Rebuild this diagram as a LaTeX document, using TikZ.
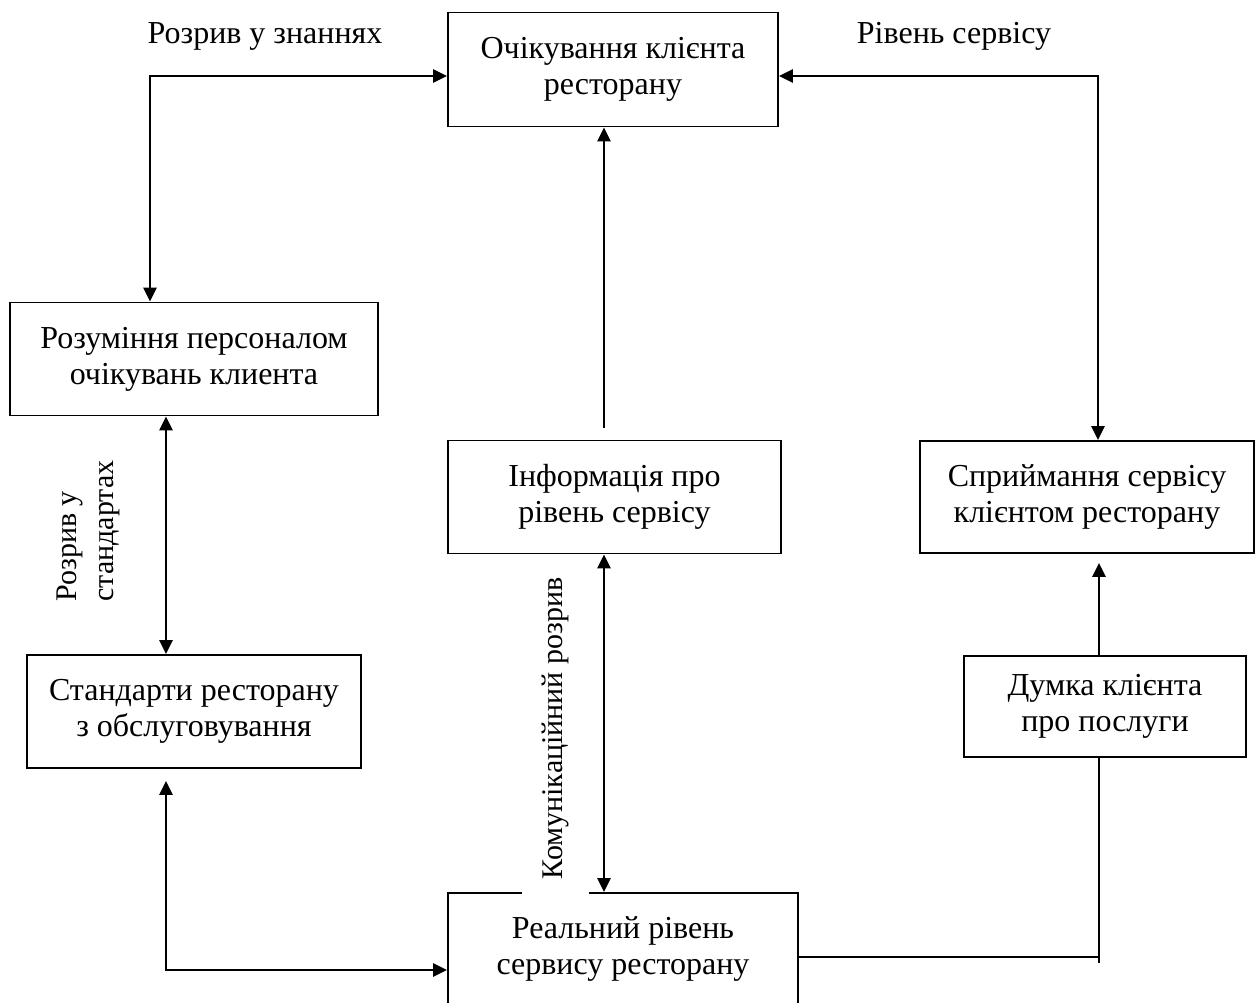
\documentclass[tikz,border=0pt]{standalone}
\usepackage{fontspec}
\setmainfont{Liberation Serif}
\usetikzlibrary{arrows.meta}
\tikzset{arr/.tip={Triangle[length=14pt,width=13pt]}}
\begin{document}
\begin{tikzpicture}[x=1pt,y=-1pt,
  box/.style={draw, line width=1.8pt, align=center, inner sep=0pt,
              font=\fontsize{32}{36}\selectfont},
  lbl/.style={inner sep=0pt, font=\fontsize{32}{36}\selectfont},
  vlbl/.style={inner sep=0pt, rotate=90, font=\fontsize{30}{37}\selectfont},
  conn/.style={line width=2.4pt}]
\useasboundingbox (0,0) rectangle (1259,1003);
\fill[white] (0,0) rectangle (1259,1003);
\clip (0,0) rectangle (1259,1003);

% boxes
\node[box, minimum width=330, minimum height=114] (expect) at (613,69.5) {Очікування клієнта\\ресторану};
\node[box, minimum width=368, minimum height=113] (und) at (194,359) {Розуміння персоналом\\очікувань клиента};
\node[box, minimum width=333, minimum height=113] (info) at (614.5,497) {Інформація про\\рівень сервісу};
\node[box, minimum width=334, minimum height=112] (percept) at (1087,497) {Сприймання сервісу\\клієнтом ресторану};
\node[box, minimum width=334, minimum height=113] (std) at (194,711.5) {Стандарти ресторану\\з обслуговування};
\node[box, minimum width=282, minimum height=101] (opinion) at (1105,706.5) {Думка клієнта\\про послуги};
\node[box, minimum width=350, minimum height=112] (real) at (623,949) {Реальний рівень\\сервису ресторану};

% labels
\node[lbl] (lknow) at (265,36) {Розрив у знаннях};
\node[lbl] (lserv) at (954,36) {Рівень сервісу};
\node[vlbl, align=left] (lstd) at (88,531) {Розрив у\\стандартах};
\node[vlbl, fill=white, inner xsep=18pt, minimum height=67pt] (lcomm) at (555,728.5) {Комунікаційний розрив};

% connectors
\coordinate (kn) at (150,76);
\draw[conn, arr-arr] (kn |- und.north) -- (kn) -- (kn -| expect.west);

\coordinate (sv) at (1098,76);
\draw[conn, arr-arr] (sv -| expect.east) -- (sv) -- (sv |- percept.north);

\coordinate (mx) at (604,0);
\draw[conn, -arr, shorten <=12pt] (mx |- info.north) -- (mx |- expect.south);
\draw[conn, arr-arr] (mx |- info.south) -- (mx |- real.north);

\coordinate (sx) at (166,970);
\draw[conn, arr-arr] (sx |- und.south) -- (sx |- std.north);
\draw[conn, arr-arr, shorten <=12pt] (sx |- std.south) -- (sx) -- (sx -| real.west);

\coordinate (rx) at (1099,957);
\coordinate (rend) at (1099,963);
\draw[line width=1.3pt] (real.east |- rx) -- (rx);
\draw[conn] (rend) -- (rend |- opinion.south);
\draw[conn, -arr, shorten >=9pt] (rx |- opinion.north) -- (rx |- percept.south);
\end{tikzpicture}
\end{document}
